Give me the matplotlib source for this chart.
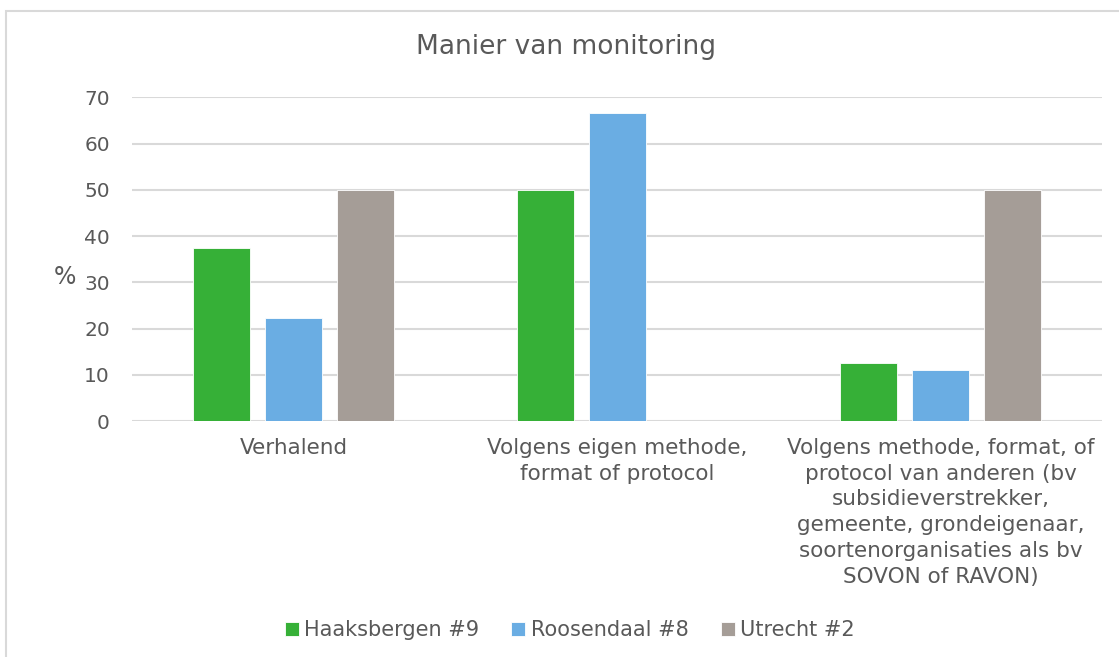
import numpy as np
import matplotlib
matplotlib.use('Agg')
import matplotlib.pyplot as plt
from matplotlib.patches import Rectangle

# Data: share (%) per monitoring method, per municipality
categories = [
    "Verhalend",
    "Volgens eigen methode,\nformat of protocol",
    "Volgens methode, format, of\nprotocol van anderen (bv\nsubsidieverstrekker,\ngemeente, grondeigenaar,\nsoortenorganisaties als bv\nSOVON of RAVON)",
]
series_names = ["Haaksbergen #9", "Roosendaal #8", "Utrecht #2"]
haaksbergen = [37.5, 50.0, 12.5]
roosendaal = [22.2, 66.7, 11.1]
utrecht = [50.0, 0.0, 50.0]
colors = ["#36B037", "#6AADE3", "#A59D97"]

text_color = "#595959"
grid_color = "#D9D9D9"

plt.rcParams['font.family'] = ['DejaVu Sans']

fig = plt.figure(figsize=(11.19, 6.57), dpi=100)
ax = fig.add_axes([0.118, 0.359, 0.867, 0.493])

# outer chart frame
fig.patches.append(Rectangle((6 / 1119, -0.05), 1.1, 1 - 11 / 657 + 0.05,
                             transform=fig.transFigure, fill=False,
                             edgecolor=grid_color, linewidth=1.5))

x = np.arange(len(categories))
width = 0.176
step = 0.2227
for i, (vals, name) in enumerate(zip([haaksbergen, roosendaal, utrecht], series_names)):
    ax.bar(x + (i - 1) * step, vals, width, color=colors[i], label=name,
           edgecolor='white', linewidth=0.6, zorder=3)

ax.set_xlim(-0.5, len(categories) - 0.5)
ax.set_ylim(0, 70)
ax.set_yticks(range(0, 71, 10))
ax.yaxis.grid(True, color=grid_color, linewidth=1.5, zorder=0)
ax.set_axisbelow(True)
for s in ax.spines.values():
    s.set_visible(False)
ax.tick_params(axis='both', length=0, colors=text_color)
ax.tick_params(axis='y', pad=16, labelsize=14.5)
ax.tick_params(axis='x', pad=12, labelsize=15.5)
ax.set_xticks(x)
ax.set_xticklabels(categories, linespacing=1.36)

fig.text(0.058, 1 - 277 / 657, "%", fontsize=17, color=text_color,
         ha='center', va='center')
fig.text(0.506, 1 - 47 / 657, "Manier van monitoring", fontsize=19,
         color=text_color, ha='center', va='center')

fig.legend(loc='center', bbox_to_anchor=(0.509, 1 - 630 / 657), ncol=3,
           frameon=False, fontsize=15, labelcolor=text_color,
           handlelength=0.67, handleheight=0.67, handletextpad=0.25,
           columnspacing=1.55)

fig.savefig('out.png', dpi=100)
